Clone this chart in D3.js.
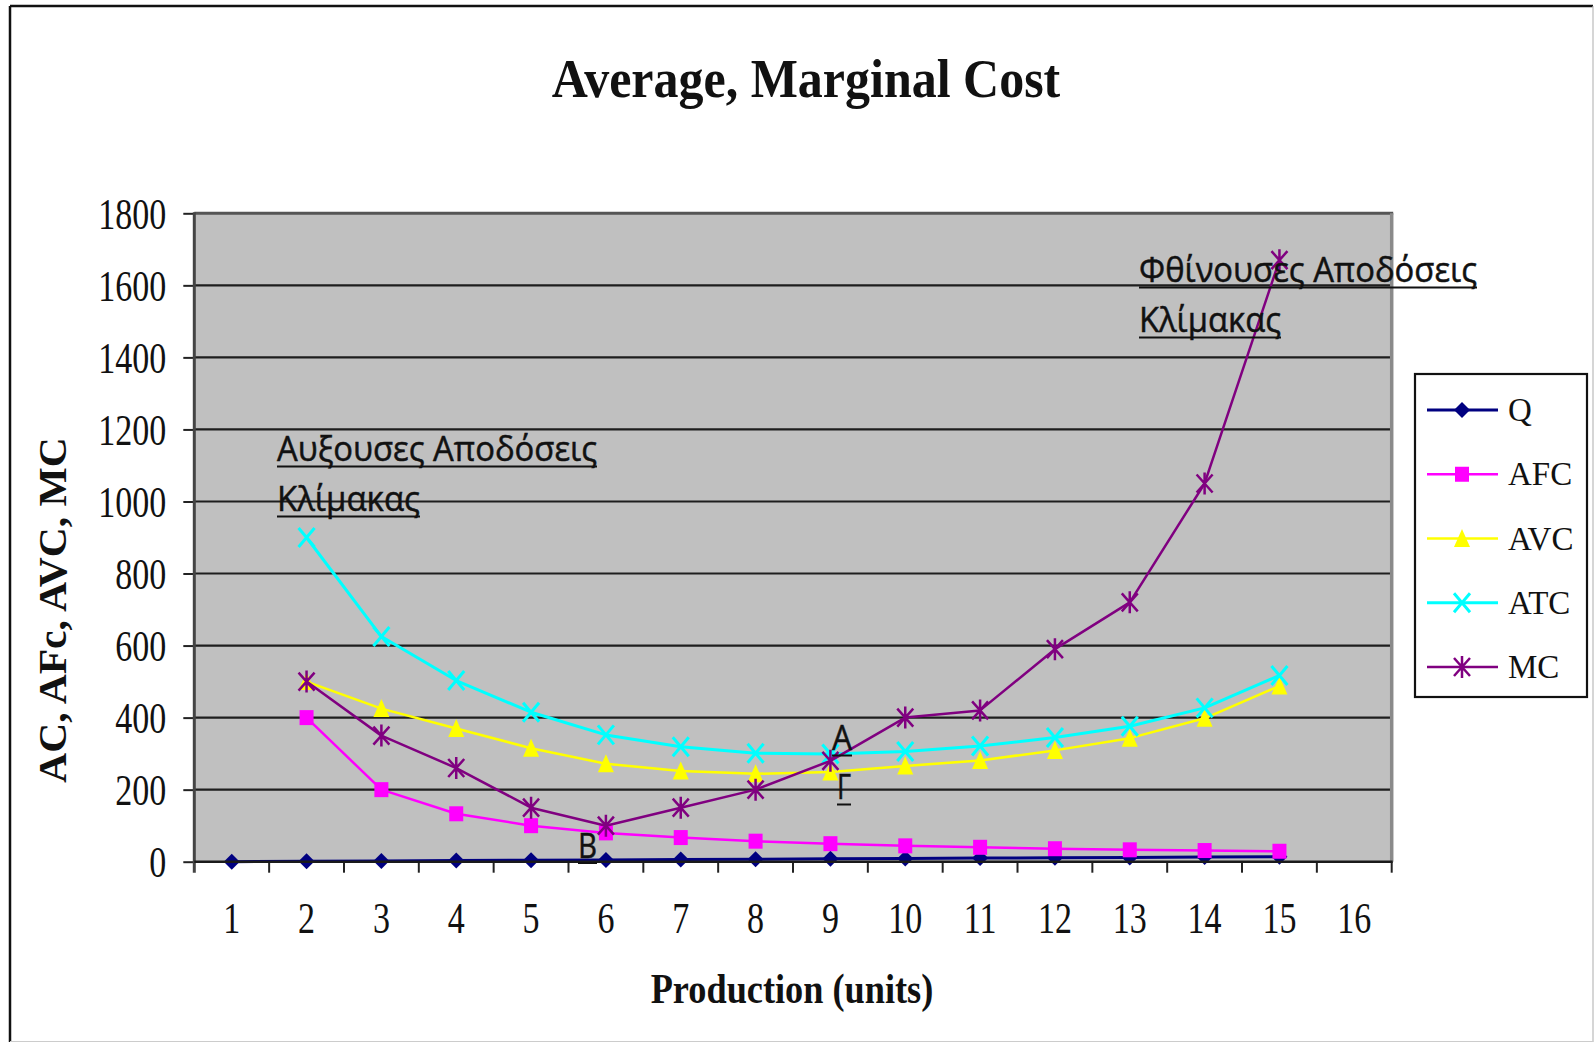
<!DOCTYPE html>
<html>
<head>
<meta charset="utf-8">
<script src="https://cdn.jsdelivr.net/npm/d3@7"></script>
<style>
  body { margin: 0; background: #fff; }
  svg { display: block; }
</style>
</head>
<body>
<svg id="chart" width="1594" height="1043"></svg>
<script>
// ---- data ----
const categories = ["1","2","3","4","5","6","7","8","9","10","11","12","13","14","15","16"];
const yTicks = [0, 200, 400, 600, 800, 1000, 1200, 1400, 1600, 1800];

const qCats = ["1","2","3","4","5","6","7","8","9","10","11","12","13","14","15"];
const qValues = [0, 1, 2, 3, 4, 5, 6, 7, 8, 9, 10, 11, 12, 13, 14];

const costCats = ["2","3","4","5","6","7","8","9","10","11","12","13","14","15"];
const afcValues = [400, 200, 133, 100, 80, 67, 57, 50, 44, 40, 36, 33, 31, 29];
const avcValues = [500, 425, 370, 315, 272, 252, 244, 249, 266, 281, 309, 343, 398, 488];
const atcValues = [900, 625, 503, 415, 352, 319, 301, 299, 306, 321, 345, 376, 427, 517];
const mcValues  = [500, 350, 260, 150, 100, 150, 200, 280, 400, 420, 590, 720, 1050, 1670];

const seriesNames = ["Q", "AFC", "AVC", "ATC", "MC"];

const titleText = "Average, Marginal Cost";
const xTitleText = "Production (units)";
const yTitleText = "AC, AFc, AVC, MC";
const noteLeft = ["Αυξουσες Αποδόσεις", "Κλίμακας"];
const noteRight = ["Φθίνουσες Αποδόσεις", "Κλίμακας"];
const pointLabels = ["Α", "Γ", "Β"];

// ---- layout ----
const svg = d3.select("#chart");
const plot = { left: 194.3, right: 1391.7, top: 213.3, bottom: 861.7 };
const serif = "'Liberation Serif', 'Times New Roman', serif";
const sans = "'Open Sans', 'Noto Sans', 'DejaVu Sans', sans-serif";

const x = d3.scaleBand().domain(categories).range([plot.left, plot.right]).padding(0);
const y = d3.scaleLinear().domain([0, 1800]).range([plot.bottom, plot.top]);
const cx = c => x(c) + x.bandwidth() / 2;

// outer frame
svg.append("rect").attr("x", 0).attr("y", 0).attr("width", 1594).attr("height", 1043).attr("fill", "#fff");
svg.append("line").attr("x1", 10).attr("x2", 10).attr("y1", 6).attr("y2", 1042).attr("stroke", "#111").attr("stroke-width", 2.5);
svg.append("line").attr("x1", 10).attr("x2", 1593).attr("y1", 6).attr("y2", 6).attr("stroke", "#111").attr("stroke-width", 2.5);
svg.append("line").attr("x1", 1593).attr("x2", 1593).attr("y1", 6).attr("y2", 1042).attr("stroke", "#bbb").attr("stroke-width", 1.2);
svg.append("line").attr("x1", 10).attr("x2", 1593).attr("y1", 1041.5).attr("y2", 1041.5).attr("stroke", "#ccc").attr("stroke-width", 1.2);

// plot background
svg.append("rect")
  .attr("x", plot.left).attr("y", plot.top)
  .attr("width", plot.right - plot.left).attr("height", plot.bottom - plot.top)
  .attr("fill", "#c0c0c0");

// horizontal gridlines
svg.append("g").selectAll("line")
  .data(yTicks.filter(v => v > 0 && v < 1800))
  .join("line")
  .attr("x1", plot.left).attr("x2", plot.right)
  .attr("y1", d => y(d)).attr("y2", d => y(d))
  .attr("stroke", "#1e1e1e").attr("stroke-width", 2.2);

// plot border (top / right)
svg.append("line").attr("x1", plot.left).attr("x2", plot.right + 1.5)
  .attr("y1", y(1800)).attr("y2", y(1800)).attr("stroke", "#555").attr("stroke-width", 3);
svg.append("line").attr("x1", plot.right).attr("x2", plot.right)
  .attr("y1", plot.top).attr("y2", plot.bottom).attr("stroke", "#8a8a8a").attr("stroke-width", 3.5);

// ---- series ----
const styles = {
  Q:   { color: "#000080", marker: "diamond", width: 3 },
  AFC: { color: "#ff00ff", marker: "square", width: 2.5 },
  AVC: { color: "#ffff00", marker: "triangle", width: 2.5 },
  ATC: { color: "#00ffff", marker: "cross", width: 3 },
  MC:  { color: "#800080", marker: "star", width: 2.5 }
};

const seriesData = {
  Q:   qCats.map((c, i) => ({ c, v: qValues[i] })),
  AFC: costCats.map((c, i) => ({ c, v: afcValues[i] })),
  AVC: costCats.map((c, i) => ({ c, v: avcValues[i] })),
  ATC: costCats.map((c, i) => ({ c, v: atcValues[i] })),
  MC:  costCats.map((c, i) => ({ c, v: mcValues[i] }))
};

function drawMarker(g, type, color) {
  if (type === "diamond") {
    g.append("path").attr("d", "M0,-8L8,0L0,8L-8,0Z").attr("fill", color);
  } else if (type === "square") {
    g.append("rect").attr("x", -7).attr("y", -7.5).attr("width", 14).attr("height", 15).attr("fill", color);
  } else if (type === "triangle") {
    g.append("path").attr("d", "M0,-9.5L8,8.5L-8,8.5Z").attr("fill", color);
  } else if (type === "cross") {
    g.append("path").attr("d", "M-8,-9.5L8,9.5M-8,9.5L8,-9.5")
      .attr("stroke", color).attr("stroke-width", 3).attr("fill", "none");
  } else if (type === "star") {
    g.append("path").attr("d", "M-8,-9L8,9M-8,9L8,-9M0,-11L0,11")
      .attr("stroke", color).attr("stroke-width", 2.5).attr("fill", "none");
  }
}

const line = d3.line().x(d => cx(d.c)).y(d => y(d.v));
const seriesG = svg.append("g");
seriesNames.forEach(name => {
  const st = styles[name];
  const data = seriesData[name];
  const g = seriesG.append("g");
  g.append("path").datum(data).attr("d", line)
    .attr("fill", "none").attr("stroke", st.color).attr("stroke-width", st.width)
    .attr("stroke-linejoin", "round");
  g.selectAll("g.pt").data(data).join("g").attr("class", "pt")
    .attr("transform", d => `translate(${cx(d.c)},${y(d.v)})`)
    .each(function () { drawMarker(d3.select(this), st.marker, st.color); });
});

// ---- axes ----
const yAxis = d3.axisLeft(y).tickValues(yTicks).tickSize(11).tickFormat(d3.format("d"));
const gy = svg.append("g").attr("transform", `translate(${plot.left},0)`).call(yAxis)
  .attr("font-family", serif).attr("font-size", 34);
gy.select(".domain").remove();
gy.selectAll(".tick line").attr("stroke", "#222").attr("stroke-width", 2);
gy.selectAll(".tick text")
  .attr("x", null).attr("dy", "0.338em").attr("fill", "#111")
  .attr("text-anchor", "end")
  .attr("transform", "translate(-28,0) scale(1,1.28)");

// left axis line
svg.append("line").attr("x1", plot.left).attr("x2", plot.left)
  .attr("y1", plot.top - 1).attr("y2", plot.bottom + 11)
  .attr("stroke", "#444").attr("stroke-width", 3);

const xAxis = d3.axisBottom(x).tickSize(0).tickPadding(0);
const gx = svg.append("g").attr("transform", `translate(0,${plot.bottom})`).call(xAxis)
  .attr("font-family", serif).attr("font-size", 34);
gx.select(".domain").remove();
gx.selectAll(".tick text")
  .attr("y", null).attr("dy", null).attr("fill", "#111")
  .attr("transform", "translate(0,71.6) scale(1,1.28)");
// tick marks between categories
gx.append("g").selectAll("line")
  .data(categories.slice(1).map(c => x(c)).concat([plot.right]))
  .join("line")
  .attr("x1", d => d).attr("x2", d => d).attr("y1", 0).attr("y2", 11)
  .attr("stroke", "#222").attr("stroke-width", 2);
svg.append("line").attr("x1", plot.left).attr("x2", plot.right + 1)
  .attr("y1", plot.bottom).attr("y2", plot.bottom)
  .attr("stroke", "#1a1a1a").attr("stroke-width", 2.5);

// ---- titles ----
svg.append("text").text(titleText)
  .attr("transform", "translate(806,96.7) scale(1,1.08)")
  .attr("text-anchor", "middle").attr("font-family", serif).attr("font-weight", "bold")
  .attr("font-size", 50).attr("fill", "#111");

svg.append("text").text(xTitleText)
  .attr("transform", "translate(792,1003.3) scale(1,1.165)")
  .attr("text-anchor", "middle").attr("font-family", serif).attr("font-weight", "bold")
  .attr("font-size", 36.3).attr("fill", "#111");

svg.append("text").text(yTitleText)
  .attr("transform", "translate(66,610) scale(1,1.04) rotate(-90)")
  .attr("text-anchor", "middle").attr("font-family", serif).attr("font-weight", "bold")
  .attr("font-size", 40).attr("fill", "#111");

// ---- annotations ----
function underlinedText(str, x0, baseline, width, size) {
  const t = svg.append("text").text(str)
    .attr("x", x0).attr("y", baseline)
    .attr("font-family", sans).attr("font-size", size).attr("fill", "#111")
    .attr("stroke", "#111").attr("stroke-width", 0.5);
  let w = width;
  if (width) {
    t.attr("textLength", width).attr("lengthAdjust", "spacingAndGlyphs");
  } else {
    w = t.node().getComputedTextLength();
  }
  svg.append("line").attr("x1", x0).attr("x2", x0 + w)
    .attr("y1", baseline + 5.5).attr("y2", baseline + 5.5)
    .attr("stroke", "#111").attr("stroke-width", 2);
}

underlinedText(noteLeft[0], 277, 461, 320, 35);
underlinedText(noteLeft[1], 277, 511, 143, 35);
underlinedText(noteRight[0], 1139, 282, 338, 35);
underlinedText(noteRight[1], 1139, 332, 142, 35);

underlinedText(pointLabels[0], 832, 750, 20, 34);
underlinedText(pointLabels[1], 837, 799, 14, 34);
underlinedText(pointLabels[2], 578, 857.5, 19, 34);

// ---- legend ----
const legend = svg.append("g");
legend.append("rect").attr("x", 1415).attr("y", 374).attr("width", 172).attr("height", 323)
  .attr("fill", "#fff").attr("stroke", "#111").attr("stroke-width", 2.2);
const legendY = d3.scalePoint().domain(seriesNames).range([410, 667]);
seriesNames.forEach(name => {
  const st = styles[name];
  const yy = legendY(name);
  const g = legend.append("g");
  g.append("line").attr("x1", 1427).attr("x2", 1498).attr("y1", yy).attr("y2", yy)
    .attr("stroke", st.color).attr("stroke-width", st.width);
  const m = g.append("g").attr("transform", `translate(1462,${yy})`);
  drawMarker(m, st.marker, st.color);
  g.append("text").text(name).attr("x", 1508).attr("y", yy + 11)
    .attr("font-family", serif).attr("font-size", 33).attr("fill", "#111");
});
</script>
</body>
</html>
